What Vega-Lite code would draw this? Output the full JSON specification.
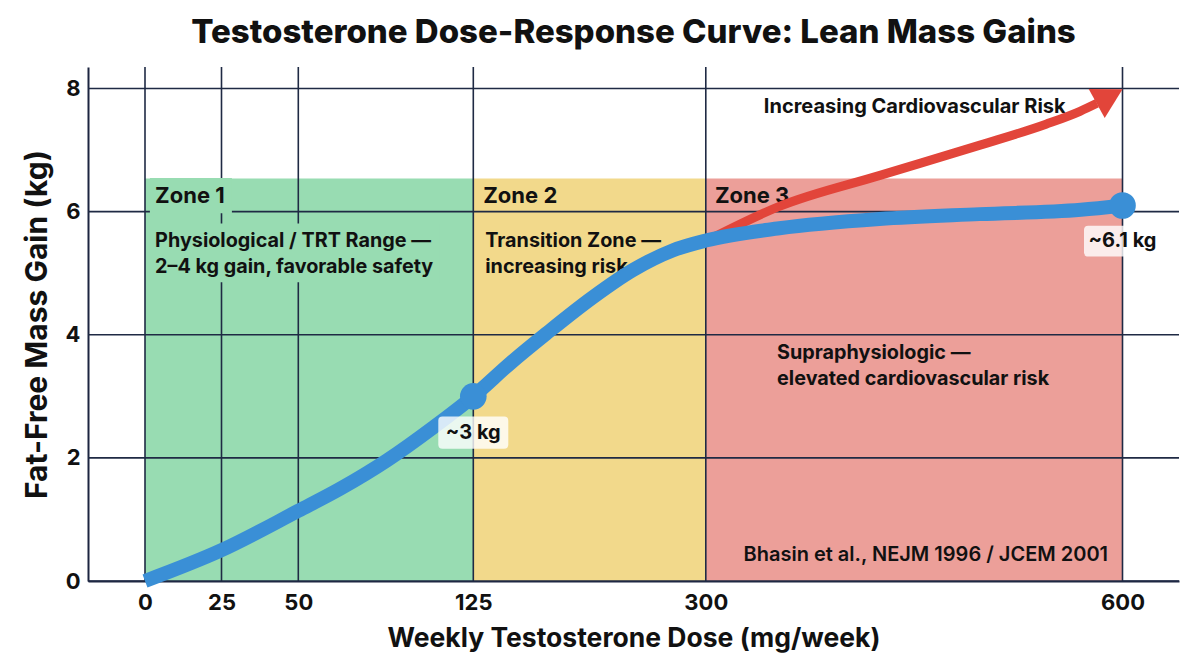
{
  "$schema": "https://vega.github.io/schema/vega-lite/v6.json",
  "width": 1091,
  "height": 514,
  "autosize": "none",
  "padding": {"left": 88, "top": 67, "right": 25, "bottom": 91},
  "background": "white",
  "config": {
    "font": "Inter",
    "view": {"stroke": null},
    "axis": {
      "grid": false,
      "ticks": false,
      "domainColor": "#1c2540",
      "domainWidth": 2,
      "labelFont": "Inter",
      "labelFontSize": 22,
      "labelFontWeight": "bold",
      "labelColor": "#111111",
      "labelFlush": false,
      "labelOverlap": false,
      "labelBound": false,
      "titleFont": "Inter",
      "titleFontWeight": "bold",
      "titleColor": "#111111"
    }
  },
  "title": {
    "text": "Testosterone Dose-Response Curve: Lean Mass Gains",
    "font": "Inter",
    "fontSize": 33,
    "fontWeight": 800,
    "color": "#111111",
    "anchor": "middle",
    "baseline": "alphabetic",
    "offset": 23,
    "dy": 33
  },
  "datasets": {
    "zones": [
      {"zone": "Zone 1", "start": 0, "end": 125, "low": 0, "high": 6.54},
      {"zone": "Zone 2", "start": 125, "end": 300, "low": 0, "high": 6.54},
      {"zone": "Zone 3", "start": 300, "end": 600, "low": 0, "high": 6.54}
    ],
    "textBacking": [
      {"dose": 15.0, "kg": 6.26, "block": "title"},
      {"dose": 48.9, "kg": 5.33, "block": "note"}
    ],
    "doseTicks": [{"dose": 0}, {"dose": 25}, {"dose": 50}, {"dose": 125}, {"dose": 300}, {"dose": 600}],
    "gainTicks": [{"kg": 0}, {"kg": 2}, {"kg": 4}, {"kg": 6}, {"kg": 8}],
    "response": [
      {"dose": 0, "kg": 0},
      {"dose": 25, "kg": 0.5},
      {"dose": 50, "kg": 1.14},
      {"dose": 68, "kg": 1.5},
      {"dose": 88, "kg": 1.96},
      {"dose": 108, "kg": 2.5},
      {"dose": 125, "kg": 3.0},
      {"dose": 153, "kg": 3.54},
      {"dose": 180, "kg": 4.02},
      {"dose": 215, "kg": 4.61},
      {"dose": 245, "kg": 5.05},
      {"dose": 275, "kg": 5.37},
      {"dose": 300, "kg": 5.53},
      {"dose": 353, "kg": 5.73},
      {"dose": 425, "kg": 5.88},
      {"dose": 497, "kg": 5.96},
      {"dose": 570, "kg": 6.03},
      {"dose": 600, "kg": 6.1}
    ],
    "highlights": [
      {"dose": 125, "kg": 3.0, "label": "~3 kg"},
      {"dose": 600, "kg": 6.1, "label": "~6.1 kg"}
    ],
    "risk": [
      {"dose": 300, "kg": 5.52},
      {"dose": 353.4, "kg": 6.09},
      {"dose": 425.4, "kg": 6.59},
      {"dose": 497.4, "kg": 7.08},
      {"dose": 544.9, "kg": 7.42},
      {"dose": 569.4, "kg": 7.63},
      {"dose": 581.6, "kg": 7.76}
    ],
    "riskTip": [{"dose": 600, "kg": 7.99}],
    "zoneTitles": [
      {"dose": 3.3, "kg": 6.14, "label": "Zone 1"},
      {"dose": 132.5, "kg": 6.14, "label": "Zone 2"},
      {"dose": 306.6, "kg": 6.14, "label": "Zone 3"}
    ],
    "zoneNotes": [
      {"dose": 3.3, "kg": 5.42, "label": ["Physiological / TRT Range —", "2–4 kg gain, favorable safety"]},
      {"dose": 134, "kg": 5.42, "label": ["Transition Zone —", "increasing risk"]},
      {"dose": 351.3, "kg": 3.6, "label": ["Supraphysiologic —", "elevated cardiovascular risk"]}
    ],
    "valueLabels": [
      {"dose": 125, "kg": 2.41, "label": "~3 kg"},
      {"dose": 600, "kg": 5.52, "label": "~6.1 kg"}
    ],
    "riskLabel": [{"dose": 341.8, "kg": 7.6, "label": "Increasing Cardiovascular Risk"}],
    "source": [{"dose": 589.6, "kg": 0.33, "label": "Bhasin et al., NEJM 1996 / JCEM 2001"}]
  },
  "layer": [
    {
      "data": {"name": "zones"},
      "mark": {"type": "rect"},
      "encoding": {
        "x": {
          "field": "start",
          "type": "quantitative",
          "scale": {
            "domain": [-18.6, 0, 25, 50, 125, 300, 600, 641],
            "range": [0, 57, 133.5, 210.3, 385.3, 617.8, 1034.5, 1091],
            "nice": false,
            "zero": false
          },
          "axis": {"values": [0, 25, 50, 125, 300, 600], "labelPadding": 11, "titlePadding": 12, "titleFontSize": 26.5},
          "title": "Weekly Testosterone Dose (mg/week)"
        },
        "x2": {"field": "end"},
        "y": {
          "field": "low",
          "type": "quantitative",
          "scale": {"domain": [0, 8.35], "nice": false, "zero": false},
          "axis": {"values": [0, 2, 4, 6, 8], "format": "d", "labelPadding": 8, "titlePadding": 13, "titleFontSize": 30},
          "title": "Fat-Free Mass Gain (kg)"
        },
        "y2": {"field": "high"},
        "color": {
          "field": "zone",
          "type": "nominal",
          "scale": {"domain": ["Zone 1", "Zone 2", "Zone 3"], "range": ["#98dcb2", "#f2d98b", "#ec9f99"]},
          "legend": null
        }
      }
    },
    {
      "data": {"name": "doseTicks"},
      "mark": {"type": "rule", "color": "#1f2a44", "strokeWidth": 1.6},
      "encoding": {"x": {"field": "dose", "type": "quantitative"}}
    },
    {
      "data": {"name": "gainTicks"},
      "mark": {"type": "rule", "color": "#1f2a44", "strokeWidth": 1.6},
      "encoding": {"y": {"field": "kg", "type": "quantitative"}}
    },
    {
      "data": {"name": "textBacking"},
      "transform": [{"filter": "datum.block === 'title'"}],
      "mark": {"type": "point", "shape": "M-1,-0.43 L1,-0.43 L1,0.43 L-1,0.43 Z", "size": 6724, "filled": true, "fill": "#98dcb2", "opacity": 1, "strokeWidth": 0},
      "encoding": {
        "x": {"field": "dose", "type": "quantitative"},
        "y": {"field": "kg", "type": "quantitative"}
      }
    },
    {
      "data": {"name": "textBacking"},
      "transform": [{"filter": "datum.block === 'note'"}],
      "mark": {"type": "point", "shape": "M-1,-0.203 L1,-0.203 L1,0.203 L-1,0.203 Z", "size": 84100, "filled": true, "fill": "#98dcb2", "opacity": 1, "strokeWidth": 0},
      "encoding": {
        "x": {"field": "dose", "type": "quantitative"},
        "y": {"field": "kg", "type": "quantitative"}
      }
    },
    {
      "data": {"name": "zoneTitles"},
      "mark": {"type": "text", "align": "left", "baseline": "alphabetic", "fontSize": 22, "fontWeight": "bold", "color": "#111111"},
      "encoding": {
        "x": {"field": "dose", "type": "quantitative"},
        "y": {"field": "kg", "type": "quantitative"},
        "text": {"field": "label"}
      }
    },
    {
      "data": {"name": "zoneNotes"},
      "mark": {"type": "text", "align": "left", "baseline": "alphabetic", "fontSize": 19.8, "fontWeight": "bold", "lineHeight": 26, "color": "#111111"},
      "encoding": {
        "x": {"field": "dose", "type": "quantitative"},
        "y": {"field": "kg", "type": "quantitative"},
        "text": {"field": "label"}
      }
    },
    {
      "data": {"name": "source"},
      "mark": {"type": "text", "align": "right", "baseline": "alphabetic", "fontSize": 20, "fontWeight": 600, "color": "#111111"},
      "encoding": {
        "x": {"field": "dose", "type": "quantitative"},
        "y": {"field": "kg", "type": "quantitative"},
        "text": {"field": "label"}
      }
    },
    {
      "data": {"name": "riskLabel"},
      "mark": {"type": "text", "align": "left", "baseline": "alphabetic", "fontSize": 20, "fontWeight": "bold", "color": "#111111"},
      "encoding": {
        "x": {"field": "dose", "type": "quantitative"},
        "y": {"field": "kg", "type": "quantitative"},
        "text": {"field": "label"}
      }
    },
    {
      "data": {"name": "risk"},
      "mark": {"type": "line", "color": "#e2453a", "strokeWidth": 9, "interpolate": "monotone", "strokeCap": "butt"},
      "encoding": {
        "x": {"field": "dose", "type": "quantitative"},
        "y": {"field": "kg", "type": "quantitative"}
      }
    },
    {
      "data": {"name": "riskTip"},
      "mark": {"type": "point", "shape": "M0,0 L-2,-1.12 L-2,1.12 Z", "size": 870, "angle": 331, "filled": true, "fill": "#e2453a", "opacity": 1, "strokeWidth": 0},
      "encoding": {
        "x": {"field": "dose", "type": "quantitative"},
        "y": {"field": "kg", "type": "quantitative"}
      }
    },
    {
      "data": {"name": "response"},
      "mark": {"type": "line", "color": "#3a8fd6", "strokeWidth": 14, "interpolate": "monotone", "strokeCap": "butt"},
      "encoding": {
        "x": {"field": "dose", "type": "quantitative"},
        "y": {"field": "kg", "type": "quantitative"}
      }
    },
    {
      "data": {"name": "highlights"},
      "mark": {"type": "point", "shape": "circle", "size": 710, "filled": true, "fill": "#3a8fd6", "opacity": 1, "strokeWidth": 0},
      "encoding": {
        "x": {"field": "dose", "type": "quantitative"},
        "y": {"field": "kg", "type": "quantitative"}
      }
    },
    {
      "data": {"name": "valueLabels"},
      "transform": [{"filter": "datum.label === '~3 kg'"}],
      "mark": {"type": "point", "shape": "M-0.88,-0.46 L0.88,-0.46 Q1,-0.46 1,-0.34 L1,0.34 Q1,0.46 0.88,0.46 L-0.88,0.46 Q-1,0.46 -1,0.34 L-1,-0.34 Q-1,-0.46 -0.88,-0.46 Z", "size": 4900, "filled": true, "fill": "white", "opacity": 0.8, "strokeWidth": 0},
      "encoding": {
        "x": {"field": "dose", "type": "quantitative"},
        "y": {"field": "kg", "type": "quantitative"}
      }
    },
    {
      "data": {"name": "valueLabels"},
      "transform": [{"filter": "datum.label === '~6.1 kg'"}],
      "mark": {"type": "point", "shape": "M-0.89,-0.4 L0.89,-0.4 Q1,-0.4 1,-0.29 L1,0.29 Q1,0.4 0.89,0.4 L-0.89,0.4 Q-1,0.4 -1,0.29 L-1,-0.29 Q-1,-0.4 -0.89,-0.4 Z", "size": 5929, "filled": true, "fill": "white", "opacity": 0.8, "strokeWidth": 0},
      "encoding": {
        "x": {"field": "dose", "type": "quantitative"},
        "y": {"field": "kg", "type": "quantitative"}
      }
    },
    {
      "data": {"name": "valueLabels"},
      "mark": {"type": "text", "align": "center", "baseline": "middle", "fontSize": 20, "fontWeight": "bold", "color": "#111111"},
      "encoding": {
        "x": {"field": "dose", "type": "quantitative"},
        "y": {"field": "kg", "type": "quantitative"},
        "text": {"field": "label"}
      }
    }
  ]
}
